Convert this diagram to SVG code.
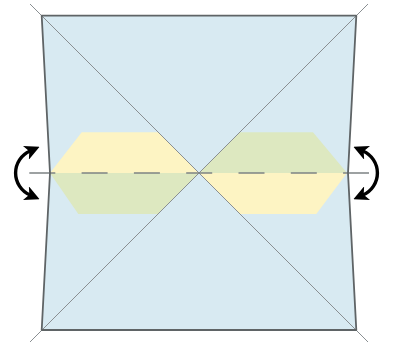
<svg xmlns="http://www.w3.org/2000/svg" width="393" height="345" viewBox="0 0 393 345">
<style>
.diag{stroke:#8a8f92;stroke-width:1;fill:none}
.edge{stroke:#5f6466;stroke-width:1.8;fill:none;stroke-linejoin:round}
.yel{fill:#fdf4c3}
.grn{fill:#dde8c0}
.flip{stroke:#000;stroke-width:3.4;fill:none;marker-start:url(#ah);marker-end:url(#ah)}
</style>
<defs>
<marker id="ah" viewBox="0 0 10 10" refX="3" refY="5" markerWidth="4.4" markerHeight="4.4" orient="auto-start-reverse" markerUnits="strokeWidth">
<path d="M0,0 L10,5 L0,10 L2.5,5 Z" fill="#000"/>
</marker>
</defs>
<g id="sheet">
<path d="M41.7,15.7 L356.3,15.7 L348,173 L356.3,330 L41.7,330 L50,173 Z" fill="#d8eaf2"/>
</g>
<g id="hex-left">
<path class="yel" d="M50,173 L81.7,132.3 L158.3,132.3 L199,173 Z"/>
<path class="grn" d="M50,173 L199,173 L158,214 L78.3,214 Z"/>
</g>
<g id="hex-right">
<path class="grn" d="M199,173 L239.7,132.3 L313,132.3 L347,173 Z"/>
<path class="yel" d="M199,173 L347,173 L316.3,214 L240,214 Z"/>
</g>
<g id="connectors">
<line class="diag" x1="30" y1="4" x2="368" y2="342"/>
<line class="diag" x1="368" y1="4" x2="30" y2="342"/>
<line x1="29.3" y1="173" x2="369" y2="173" stroke="#7d8284" stroke-width="1.4" stroke-dasharray="26 26.3"/>
<path class="edge" d="M41.7,15.7 L356.3,15.7 L348,173 L356.3,330 L41.7,330 L50,173 Z"/>
</g>
<g id="flip-left">
<path class="flip" d="M30,151 A24,24 0 0 0 30,195"/>
</g>
<g id="flip-right">
<path class="flip" d="M363,151 A24,24 0 0 1 363,195"/>
</g>
</svg>
